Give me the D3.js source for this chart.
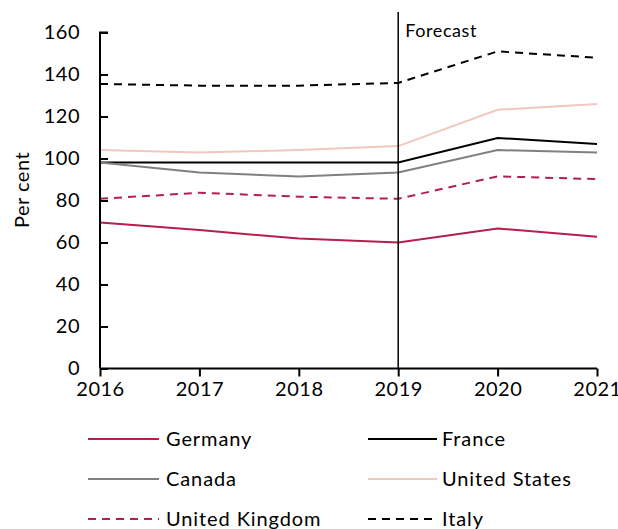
<!DOCTYPE html>
<html><head><meta charset="utf-8">
<script src="https://cdn.jsdelivr.net/npm/d3@7"></script>
<style>body{margin:0;background:#fff;}svg{display:block;}text{font-family:Lato,"Open Sans",sans-serif;fill:#000;}</style>
</head><body>
<script>
const years = [2016, 2017, 2018, 2019, 2020, 2021];
const germany = [69.5, 65.9, 61.9, 60.0, 66.7, 62.7];
const france = [98.1, 98.1, 98.1, 98.1, 109.8, 106.9];
const canada = [98.1, 93.3, 91.4, 93.3, 104.0, 102.9];
const unitedStates = [104.0, 102.9, 104.0, 105.9, 123.2, 126.0];
const unitedKingdom = [80.8, 83.7, 81.8, 80.8, 91.5, 90.2];
const italy = [135.5, 134.7, 134.7, 136.0, 151.0, 148.0];
const yTicks = [0, 20, 40, 60, 80, 100, 120, 140, 160];
const forecastYear = 2019;

const series = [
  {name: "Germany", values: germany, color: "#b51f4b", dash: null},
  {name: "France", values: france, color: "#000000", dash: null},
  {name: "Canada", values: canada, color: "#808080", dash: null},
  {name: "United States", values: unitedStates, color: "#f2c7bf", dash: null},
  {name: "United Kingdom", values: unitedKingdom, color: "#b51f4b", dash: "8,6"},
  {name: "Italy", values: italy, color: "#000000", dash: "8,6"}
];

const W = 618, H = 529;
const svg = d3.select("body").append("svg").attr("width", W).attr("height", H);
const x = d3.scaleLinear().domain([2016, 2021]).range([100, 597]);
const y = d3.scaleLinear().domain([0, 160]).range([368.5, 32.5]);

// lines
const line = d3.line().x((d, i) => x(years[i])).y(d => y(d));
series.forEach(s => {
  svg.append("path").datum(s.values).attr("d", line)
    .attr("fill", "none").attr("stroke", s.color).attr("stroke-width", 2)
    .attr("stroke-dasharray", s.dash);
});

// forecast line
svg.append("line").attr("x1", x(forecastYear)).attr("x2", x(forecastYear))
  .attr("y1", 12).attr("y2", y(0)).attr("stroke", "#000").attr("stroke-width", 1.5);
svg.append("text").attr("x", x(forecastYear) + 7).attr("y", 37)
  .attr("font-size", 18).attr("letter-spacing", 0.6).text("Forecast");

// y axis
const yAxis = d3.axisRight(y).tickValues(yTicks).tickSize(8).tickFormat(d3.format("d"));
const gy = svg.append("g").attr("transform", "translate(100,0)").call(yAxis);
gy.select(".domain").attr("stroke-width", 2).attr("d", `M8,${y(160)}H0V${y(0)}`);
gy.selectAll(".tick line").attr("stroke-width", 2);
gy.selectAll(".tick text").attr("x", -20).attr("text-anchor", "end")
  .attr("font-size", 20).attr("letter-spacing", 0.5).attr("font-family", "Lato, sans-serif");

// x axis
const xAxis = d3.axisBottom(x).tickValues(years).tickSize(8).tickFormat(d3.format("d"));
const gx = svg.append("g").attr("transform", `translate(0,${y(0)})`).call(xAxis);
gx.select(".domain").attr("stroke-width", 2).attr("d", `M${x(2016)},0H${x(2021)}`);
gx.selectAll(".tick line").attr("stroke-width", 2);
gx.selectAll(".tick text").attr("y", 13).attr("font-size", 20).attr("letter-spacing", 0.5)
  .attr("font-family", "Lato, sans-serif");

// y label
svg.append("text").attr("transform", "translate(29,190) rotate(-90)")
  .attr("text-anchor", "middle").attr("font-size", 20).attr("letter-spacing", 0.5).text("Per cent");

// legend
const legX = [88, 368], legLen = [71, 69], legTx = [166, 442], legY = [439, 479, 519];
series.forEach((s, i) => {
  const c = i % 2, cx = legX[c], cy = legY[Math.floor(i / 2)];
  svg.append("line").attr("x1", cx).attr("x2", cx + legLen[c]).attr("y1", cy).attr("y2", cy)
    .attr("stroke", s.color).attr("stroke-width", 2).attr("stroke-dasharray", s.dash);
  svg.append("text").attr("x", legTx[c]).attr("y", cy + 7).attr("font-size", 20)
    .attr("letter-spacing", 0.9).text(s.name);
});
</script>
</body></html>
